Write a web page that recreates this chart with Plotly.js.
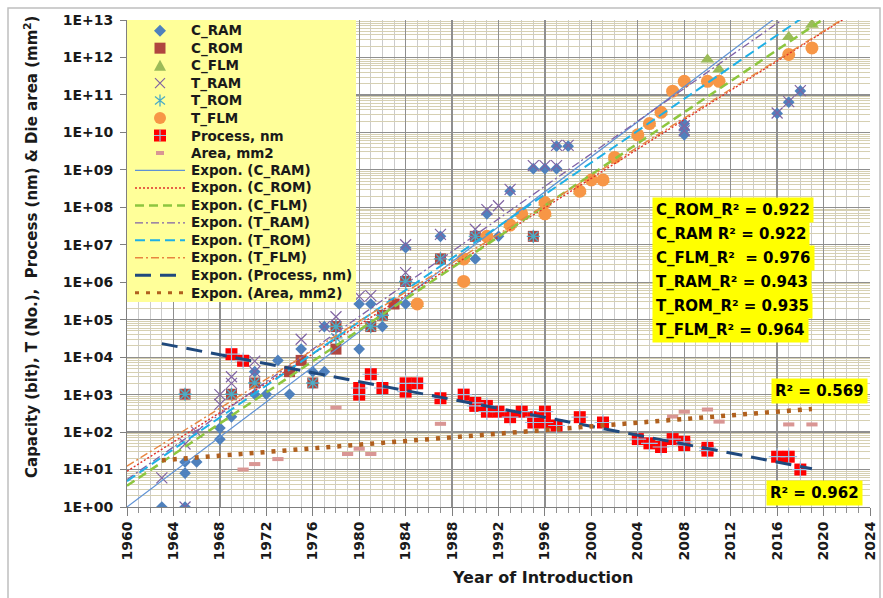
<!DOCTYPE html>
<html>
<head>
<meta charset="utf-8">
<script src="https://cdn.plot.ly/plotly-3.0.1.min.js"></script>
<style>
  html, body { margin: 0; padding: 0; background: #ffffff; }
  #chart { width: 883px; height: 598px; }
</style>
</head>
<body>
<div id="chart"></div>
<script>
// ---------------- data ----------------
const seriesNames = ['C_RAM', 'C_ROM', 'C_FLM', 'T_RAM', 'T_ROM', 'T_FLM', 'Process, nm', 'Area, mm2'];

// memory capacity (bits)
const cRamYears = [1963, 1965, 1965, 1965, 1966, 1968, 1968, 1969, 1971, 1971, 1972, 1973, 1974, 1975, 1976, 1977, 1977, 1978,
                   1980, 1980, 1981, 1982, 1984, 1984, 1987, 1990, 1991, 1992, 1993, 1995, 1996, 1997, 1997, 1998,
                   2008, 2008, 2008, 2016, 2017, 2018];
const cRamBits = [1, 1, 8, 16, 16, 64, 128, 256, 1024, 4096, 1024, 8192, 1024, 16384, 4096, 4096, 65536, 65536,
                  16384, 262144, 262144, 65536, 262144, 8388608, 16777216, 4194304, 67108864, 16777216, 268435456,
                  1073741824, 1073741824, 1073741824, 4294967296, 4294967296,
                  8.6e9, 1.2e10, 1.7e10, 3.2e10, 6.4e10, 1.28e11];

const cRomYears = [1965, 1969, 1971, 1974, 1975, 1976, 1978, 1978, 1981, 1982, 1983, 1984, 1987, 1990, 1995];
const cRomBits = [1024, 1024, 2048, 4096, 8192, 2048, 16384, 65536, 65536, 131072, 262144, 1048576, 4194304, 16777216, 16777216];

const cFlmYears = [1985, 1989, 1989, 1991, 1993, 1994, 1996, 1996, 1999, 2000, 2001, 2002, 2004, 2005, 2006,
                   2010, 2011, 2017, 2019];
const cFlmBits = [262144, 1048576, 4194304, 16777216, 33554432, 67108864, 67108864, 134217728, 268435456,
                  536870912, 536870912, 2147483648, 8589934592, 17179869184, 34359738368,
                  8.8e11, 4.8e11, 3.5e12, 7.5e12];

// transistor counts
const tRamYears = [1963, 1965, 1965, 1966, 1968, 1968, 1969, 1969, 1971, 1971, 1975, 1977, 1978, 1980, 1981, 1984, 1984,
                   1987, 1990, 1991, 1992, 1993, 1995, 1996, 1997, 1997, 1998, 2008, 2008, 2016, 2017, 2018];
const tRamCount = [6, 1, 48, 100, 550, 1000, 2000, 3000, 4096, 7800, 30000, 65536, 120000, 420000, 440000, 1.8e6, 1e7,
                   1.9e7, 2.6e7, 8.7e7, 1.1e8, 3e8, 1.3e9, 1.3e9, 1.3e9, 4.5e9, 4.5e9, 1.1e10, 1.5e10, 3.3e10, 6.6e10, 1.3e11];

const tRomYears = [1965, 1969, 1971, 1976, 1978, 1978, 1981, 1982, 1984, 1987, 1990, 1995];
const tRomCount = [1024, 1024, 2048, 2048, 32768, 65536, 65536, 131072, 1048576, 4194304, 16777216, 16777216];

const tFlmYears = [1985, 1989, 1989, 1991, 1993, 1994, 1996, 1996, 1999, 2000, 2001, 2002, 2004, 2005, 2006,
                   2007, 2008, 2010, 2011, 2017, 2019];
const tFlmCount = [262144, 1048576, 4194304, 16777216, 33554432, 67108864, 67108864, 134217728, 268435456,
                   536870912, 536870912, 2147483648, 8589934592, 17179869184, 34359738368,
                   1.26e11, 2.3e11, 2.3e11, 2.3e11, 1.2e12, 1.8e12];

// process node (nm) and die area (mm2)
const processYears = [1969, 1970, 1980, 1980, 1981, 1982, 1984, 1984, 1985, 1987, 1989, 1990, 1990, 1991, 1991, 1992,
                      1993, 1994, 1995, 1995, 1996, 1996, 1997, 1999, 2001, 2004, 2005, 2006, 2007, 2008, 2008,
                      2010, 2010, 2016, 2017, 2018];
const processNm = [12000, 8000, 1000, 1500, 3500, 1500, 1200, 2000, 2000, 800, 1000, 600, 500, 500, 350, 350,
                   250, 350, 180, 250, 350, 180, 150, 250, 180, 65, 50, 40, 65, 55, 45,
                   32, 38, 22, 22, 10];

const areaYears = [1970, 1971, 1973, 1978, 1979, 1980, 1981, 1987, 2007, 2008, 2010, 2011, 2017, 2019];
const areaMm2 = [10, 14, 19, 450, 26, 36, 26, 166, 260, 350, 400, 190, 160, 160];

// exponential trend lines: first and last point of each fit
const fitStartYear = [1960, 1960, 1960, 1960, 1960, 1960, 1963, 1963];
const fitEndYear = [2016, 2022, 2020, 2017, 2018, 2022, 2019, 2019];
const fitStartValue = [1, 9, 3.7, 5.4, 4.9, 12.3, 23000, 17.7];
const fitEndValue = [1.23e13, 1.19e13, 1.07e13, 1.35e13, 1.05e13, 1.23e13, 10.5, 415];

const r2Labels = ['C_ROM_R² = 0.922', 'C_RAM R² = 0.922', 'C_FLM_R²  = 0.976',
                  'T_RAM_R² = 0.943', 'T_ROM_R² = 0.935', 'T_FLM_R² = 0.964'];
const areaR2Label = 'R² = 0.569';
const processR2Label = 'R² = 0.962';

const yTickValues = [1, 1e1, 1e2, 1e3, 1e4, 1e5, 1e6, 1e7, 1e8, 1e9, 1e10, 1e11, 1e12, 1e13];
const yTickLabels = ['1E+00', '1E+01', '1E+02', '1E+03', '1E+04', '1E+05', '1E+06', '1E+07',
                     '1E+08', '1E+09', '1E+10', '1E+11', '1E+12', '1E+13'];

// ---------------- styles ----------------
const FONT = 'DejaVu Sans';
const TXT = '#1a1a1a';
const L = 127, T = 20, W = 743, H = 487;          // plot area in pixels
const pxX = v => (v - L) / W;
const pxY = v => (T + H - v) / H;

const markerStyles = [
  { symbol: 'diamond', size: 9, color: '#4f81bd', line: { width: 0 } },
  { symbol: 'square', size: 11, color: '#b0463f', line: { width: 0 } },
  { symbol: 'triangle-up', size: 12, color: '#9bbb59', line: { width: 0 } },
  { symbol: 'x-thin-open', size: 11, color: '#8064a2', line: { width: 1.2, color: '#8064a2' } },
  { symbol: 'asterisk-open', size: 11, color: '#4bacc6', line: { width: 1.4, color: '#4bacc6' } },
  { symbol: 'circle', size: 13, color: '#f79646', line: { width: 0 } },
  { symbol: 'square', size: 12, color: '#ff0000', line: { width: 0 } },
  { symbol: 'line-ew-open', size: 8, color: '#d99694', line: { width: 4, color: '#d99694' } }
];

const fitStyles = [
  { color: '#5f92d4', width: 1.2, dash: 'solid' },
  { color: '#e0302a', width: 1.4, dash: '2px,2px' },
  { color: '#8dc63f', width: 2.5, dash: '9px,5px' },
  { color: '#7f62a8', width: 1.3, dash: '8px,3px,2px,3px' },
  { color: '#1fb0e6', width: 2, dash: '10px,5px' },
  { color: '#e8853f', width: 1.4, dash: '8px,3px,2px,3px' },
  { color: '#1f497d', width: 3, dash: '16px,9px' },
  { color: '#b0601e', width: 4.5, dash: '4px,7px' }
];

const seriesX = [cRamYears, cRomYears, cFlmYears, tRamYears, tRomYears, tFlmYears, processYears, areaYears];
const seriesY = [cRamBits, cRomBits, cFlmBits, tRamCount, tRomCount, tFlmCount, processNm, areaMm2];

// ---------------- traces ----------------
const traces = [];
seriesNames.forEach((name, i) => {
  traces.push({
    type: 'scatter', mode: 'markers', name: name,
    x: seriesX[i], y: seriesY[i],
    marker: markerStyles[i], showlegend: false, hoverinfo: 'skip'
  });
  if (i === 6) {
    // light blue cross drawn inside each process marker
    traces.push({
      type: 'scatter', mode: 'markers', name: name,
      x: processYears, y: processNm,
      marker: { symbol: 'cross-thin-open', size: 12, color: '#9cc3e5', line: { width: 1.2, color: '#9cc3e5' } },
      showlegend: false, hoverinfo: 'skip'
    });
  }
});
seriesNames.forEach((name, i) => {
  traces.push({
    type: 'scatter', mode: 'lines', name: 'Expon. (' + name + ')',
    x: [fitStartYear[i], fitEndYear[i]], y: [fitStartValue[i], fitEndValue[i]],
    line: fitStyles[i], showlegend: false, hoverinfo: 'skip'
  });
});

// ---------------- legend (drawn as shapes and annotations) ----------------
const shapes = [];
const annotations = [];
const legTop = 30.7, legStep = 17.47, keyX = 160, textX = 189;

shapes.push({ type: 'rect', xref: 'paper', yref: 'paper', layer: 'above',
  x0: pxX(127), x1: pxX(356), y0: pxY(302), y1: pxY(20), fillcolor: '#ffff99', line: { width: 0 } });

function keyShape(cy, spec) {
  return Object.assign({ xref: 'paper', yref: 'paper', layer: 'above', xsizemode: 'pixel', ysizemode: 'pixel',
    xanchor: pxX(keyX), yanchor: pxY(cy) }, spec);
}
const NOFILL = 'rgba(0,0,0,0)';
const keySpecs = [
  [{ type: 'path', path: 'M0,6L6,0L0,-6L-6,0Z', fillcolor: '#4f81bd', line: { width: 0 } }],
  [{ type: 'rect', x0: -5.5, x1: 5.5, y0: -5.5, y1: 5.5, fillcolor: '#b0463f', line: { width: 0 } }],
  [{ type: 'path', path: 'M-6,-5L6,-5L0,6Z', fillcolor: '#9bbb59', line: { width: 0 } }],
  [{ type: 'path', path: 'M-5,-5L5,5M-5,5L5,-5', fillcolor: NOFILL, line: { color: '#8064a2', width: 1.2 } }],
  [{ type: 'path', path: 'M0,-6L0,6M-5,-4L5,4M-5,4L5,-4', fillcolor: NOFILL, line: { color: '#4bacc6', width: 1.3 } }],
  [{ type: 'circle', x0: -6, x1: 6, y0: -6, y1: 6, fillcolor: '#f79646', line: { width: 0 } }],
  [{ type: 'rect', x0: -6, x1: 6, y0: -6, y1: 6, fillcolor: '#ff0000', line: { width: 0 } },
   { type: 'path', path: 'M-6,0L6,0M0,-6L0,6', fillcolor: NOFILL, line: { color: '#9cc3e5', width: 1.2 } }],
  [{ type: 'rect', x0: -4, x1: 4, y0: -2, y1: 2, fillcolor: '#d99694', line: { width: 0 } }]
];

const legendFont = { family: FONT, size: 13.5, weight: 700, color: TXT };
seriesNames.forEach((name, i) => {
  const cy = legTop + i * legStep;
  keySpecs[i].forEach(s => shapes.push(keyShape(cy, s)));
  annotations.push({ xref: 'paper', yref: 'paper', x: pxX(textX), y: pxY(cy), xanchor: 'left', yanchor: 'middle',
    text: name, showarrow: false, font: legendFont });
});
seriesNames.forEach((name, i) => {
  const cy = legTop + (i + 8) * legStep;
  const st = fitStyles[i];
  shapes.push({ type: 'line', xref: 'paper', yref: 'paper', layer: 'above',
    x0: pxX(135), x1: pxX(185), y0: pxY(cy), y1: pxY(cy),
    line: { color: st.color, width: Math.min(st.width, 3), dash: st.dash } });
  annotations.push({ xref: 'paper', yref: 'paper', x: pxX(textX), y: pxY(cy), xanchor: 'left', yanchor: 'middle',
    text: 'Expon. (' + name + ')', showarrow: false, font: legendFont });
});

// chart border
shapes.push({ type: 'rect', xref: 'paper', yref: 'paper', layer: 'above',
  x0: pxX(8), x1: pxX(880), y0: pxY(605), y1: pxY(8), line: { color: '#bfbfbf', width: 1.5 }, fillcolor: NOFILL });

// R² boxes
const r2Font = { family: FONT, size: 15, weight: 700, color: '#000000' };
r2Labels.forEach((t, i) => {
  annotations.push({ xref: 'paper', yref: 'paper', x: pxX(652), y: pxY(209.5 + i * 24.1), xanchor: 'left', yanchor: 'middle',
    text: t, showarrow: false, bgcolor: '#ffff00', borderpad: 3, font: r2Font });
});
annotations.push({ xref: 'paper', yref: 'paper', x: pxX(819.5), y: pxY(390.5), xanchor: 'center', yanchor: 'middle',
  text: areaR2Label, showarrow: false, bgcolor: '#ffff00', borderpad: 3, font: r2Font });
annotations.push({ xref: 'paper', yref: 'paper', x: pxX(814.5), y: pxY(493), xanchor: 'center', yanchor: 'middle',
  text: processR2Label, showarrow: false, bgcolor: '#ffff00', borderpad: 3, font: r2Font });

// axis titles
annotations.push({ xref: 'paper', yref: 'paper', x: pxX(542), y: pxY(577), xanchor: 'center', yanchor: 'middle',
  text: 'Year of Introduction', showarrow: false, font: { family: FONT, size: 16, weight: 700, color: TXT } });
annotations.push({ xref: 'paper', yref: 'paper', x: pxX(31), y: pxY(247), xanchor: 'center', yanchor: 'middle',
  textangle: -90, text: 'Capacity (bit), T (No.),  Process (nm) &amp; Die area (mm<sup>2</sup>)', showarrow: false,
  font: { family: FONT, size: 15, weight: 700, color: TXT } });

// minor gridlines for the log axis (2..9 in each decade)
const yMinor = [];
for (let d = 0; d < 13; d++) for (let k = 2; k <= 9; k++) yMinor.push(k * Math.pow(10, d));

const layout = {
  width: 883, height: 598,
  margin: { l: L, r: 883 - L - W, t: T, b: 598 - T - H },
  paper_bgcolor: '#ffffff', plot_bgcolor: '#ffffff',
  showlegend: false, hovermode: false,
  xaxis: {
    range: [1960, 2024], tick0: 1960, dtick: 4, automargin: false,
    showgrid: true, gridcolor: '#8f8f8f', gridwidth: 1.3,
    showline: true, linecolor: '#7f7f7f', linewidth: 1,
    ticks: 'outside', ticklen: 8, tickcolor: '#7f7f7f', tickangle: -90,
    tickfont: { family: FONT, size: 14, weight: 700, color: TXT },
    minor: { dtick: 1, tick0: 1960, showgrid: true, gridcolor: '#cbcbcb', gridwidth: 1,
             ticks: 'outside', ticklen: 5, tickcolor: '#8f8f8f' },
    zeroline: false
  },
  yaxis: {
    type: 'log', range: [0, 13], automargin: false,
    tickmode: 'array', tickvals: yTickValues, ticktext: yTickLabels,
    showgrid: true, gridcolor: '#8f8f8f', gridwidth: 1.2,
    showline: true, linecolor: '#7f7f7f', linewidth: 1,
    ticks: 'outside', ticklen: 6, tickcolor: '#7f7f7f', ticklabelstandoff: 4,
    tickfont: { family: FONT, size: 14, weight: 700, color: TXT },
    minor: { tickmode: 'array', tickvals: yMinor, showgrid: true, gridcolor: '#d6d0b2', gridwidth: 1, ticks: '' },
    zeroline: false
  },
  shapes: shapes,
  annotations: annotations
};

Plotly.newPlot('chart', traces, layout, { displayModeBar: false, staticPlot: true });
</script>
</body>
</html>
